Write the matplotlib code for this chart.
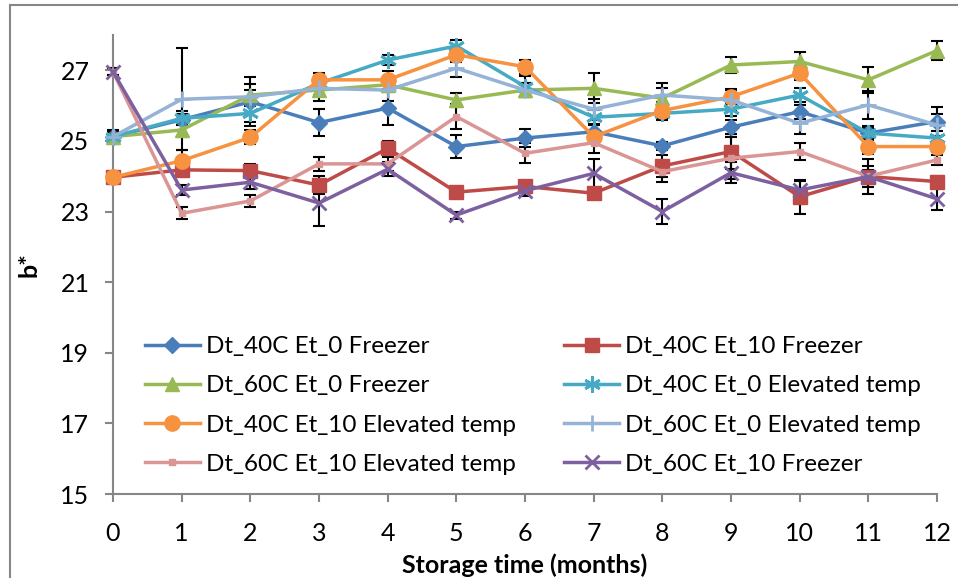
import matplotlib
matplotlib.use("Agg")
import matplotlib.pyplot as plt
from matplotlib.patches import Rectangle

months = list(range(13))

b_40_0_frz = [25.12, 25.60, 26.11, 25.52, 25.93, 24.84, 25.08, 25.26, 24.86, 25.39, 25.83, 25.22, 25.55]
b_40_10_frz = [23.97, 24.18, 24.16, 23.75, 24.79, 23.55, 23.71, 23.52, 24.29, 24.70, 23.42, 23.99, 23.85]
b_60_0_frz = [25.12, 25.31, 26.30, 26.44, 26.59, 26.16, 26.44, 26.49, 26.21, 27.15, 27.25, 26.73, 27.56]
b_40_0_elev = [25.12, 25.64, 25.78, 26.63, 27.29, 27.69, 26.54, 25.67, 25.78, 25.90, 26.30, 25.22, 25.08]
b_40_10_elev = [23.97, 24.44, 25.10, 26.73, 26.73, 27.44, 27.10, 25.12, 25.86, 26.25, 26.92, 24.84, 24.84]
b_60_0_elev = [25.12, 26.18, 26.25, 26.49, 26.44, 27.06, 26.44, 25.90, 26.30, 26.16, 25.50, 26.02, 25.45]
b_60_10_elev = [26.96, 22.95, 23.30, 24.35, 24.35, 25.69, 24.65, 24.95, 24.13, 24.51, 24.70, 24.00, 24.46]
b_60_10_frz = [26.96, 23.61, 23.83, 23.24, 24.20, 22.90, 23.59, 24.08, 23.00, 24.10, 23.61, 23.99, 23.36]

err_40_0_frz = [0.2, 0.15, 0.7, 0.37, 0.48, 0.32, 0.26, 0.2, 0.12, 0.2, 0.2, 0.15, 0.4]
err_40_10_frz = [0.1, 0.15, 0.2, 0.25, 0.2, 0.1, 0.15, 0.1, 0.3, 0.5, 0.48, 0.5, 0.15]
err_60_0_frz = [0.15, 0.2, 0.3, 0.3, 0.2, 0.2, 0.2, 0.43, 0.3, 0.24, 0.26, 0.37, 0.28]
err_40_0_elev = [0.15, 0.2, 0.25, 0.2, 0.15, 0.17, 0.3, 0.2, 0.2, 0.2, 0.2, 0.2, 0.2]
err_40_10_elev = [0.1, 0.3, 0.2, 0.2, 0.25, 0.2, 0.2, 0.1, 0.25, 0.2, 0.2, 0.2, 0.15]
err_60_0_elev = [0.1, 1.45, 0.2, 0.2, 0.3, 0.25, 0.2, 0.3, 0.33, 0.3, 0.3, 0.4, 0.3]
err_60_10_elev = [0.1, 0.17, 0.18, 0.2, 0.2, 0.35, 0.28, 0.3, 0.3, 0.6, 0.23, 0.3, 0.15]
err_60_10_frz = [0.1, 0.15, 0.2, 0.65, 0.2, 0.1, 0.15, 0.4, 0.35, 0.3, 0.25, 0.2, 0.33]

series = [
    ("Dt_40C Et_0 Freezer", b_40_0_frz, err_40_0_frz, "#4A7EBB", dict(marker="D", ms=8)),
    ("Dt_40C Et_10 Freezer", b_40_10_frz, err_40_10_frz, "#BE4B48", dict(marker="s", ms=10)),
    ("Dt_60C Et_0 Freezer", b_60_0_frz, err_60_0_frz, "#98B954", dict(marker="^", ms=10)),
    ("Dt_40C Et_0 Elevated temp", b_40_0_elev, err_40_0_elev, "#46AAC5", dict(marker=(6, 2, 0), ms=12, mew=2)),
    ("Dt_40C Et_10 Elevated temp", b_40_10_elev, err_40_10_elev, "#F69240", dict(marker="o", ms=11)),
    ("Dt_60C Et_0 Elevated temp", b_60_0_elev, err_60_0_elev, "#95B3D7", dict(marker="+", ms=12, mew=2)),
    ("Dt_60C Et_10 Elevated temp", b_60_10_elev, err_60_10_elev, "#D99694", dict(marker="s", ms=4)),
    ("Dt_60C Et_10 Freezer", b_60_10_frz, err_60_10_frz, "#7D60A0", dict(marker="x", ms=10, mew=2)),
]

plt.rcParams["font.family"] = ["Lato", "DejaVu Sans"]

fig = plt.figure(figsize=(9.58, 5.78), dpi=100)
ax = fig.add_axes([113 / 958, 84 / 578, 824 / 958, 459 / 578])

handles = []
for label, vals, err, color, mk in series:
    ax.errorbar(months, vals, yerr=err, fmt="none", ecolor="black", elinewidth=1.5,
                capsize=4.5, capthick=1.5, zorder=2, clip_on=False)
    (ln,) = ax.plot(months, vals, color=color, lw=2.5, mfc=color, mec=color,
                    label=label, zorder=3, clip_on=False, **mk)
    handles.append(ln)

ax.set_xlim(0, 12)
ax.set_ylim(15, 28)
ax.set_xticks(months)
ax.set_yticks(range(15, 28, 2))
for side in ("top", "right"):
    ax.spines[side].set_visible(False)
for side in ("left", "bottom"):
    ax.spines[side].set_color("#868686")
    ax.spines[side].set_linewidth(1.5)
ax.tick_params(axis="both", direction="out", length=6, width=1.5, color="#868686",
               labelsize=18, labelcolor="black")
ax.tick_params(axis="y", pad=11)
ax.tick_params(axis="x", pad=14)

ax.set_xlabel("Storage time (months)", fontsize=18, fontweight="bold", labelpad=6)
ax.set_ylabel("b*", fontsize=18, fontweight="bold", labelpad=14)

# legend reads row-wise in the original, matplotlib fills column-wise
order = [0, 2, 4, 6, 1, 3, 5, 7]
ax.legend([handles[i] for i in order], [handles[i].get_label() for i in order],
          ncol=2, loc="upper left", bbox_to_anchor=(145 / 958, 1 - 336 / 578),
          bbox_transform=fig.transFigure, frameon=False, fontsize=17.5,
          handlelength=2.25, handletextpad=0.25, columnspacing=2.0,
          labelspacing=0.75, borderpad=0, borderaxespad=0)

fig.patches.append(Rectangle((10 / 958, -0.1), 1.2, 1 - 5 / 578 + 0.1, transform=fig.transFigure,
                             fill=False, edgecolor="#868686", lw=1.5))

fig.savefig("out.png", dpi=100)
